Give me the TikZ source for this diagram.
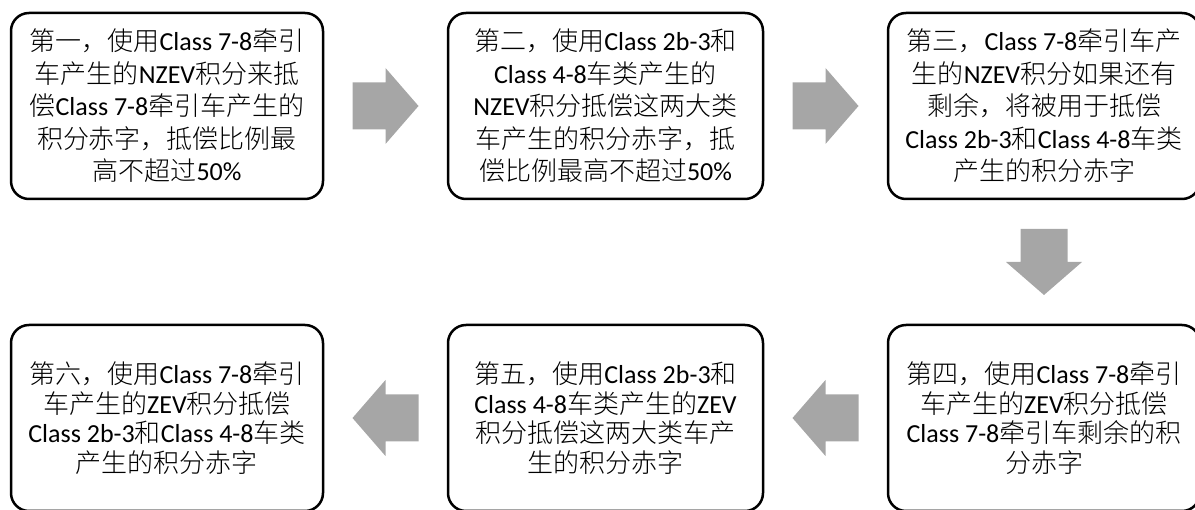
\documentclass[tikz,border=0pt]{standalone}
\usepackage{fontspec}
\setmainfont{Noto Sans CJK SC}[UprightFont={* Light}]
\newfontfamily\latfont{Carlito}
\newcommand{\en}[1]{{\latfont #1}}
\usetikzlibrary{calc}
\definecolor{arrowgray}{RGB}{166,166,166}
\tikzset{
  stepbox/.style={draw=black, line width=2.5pt, rounded corners=18pt,
    minimum width=312pt, minimum height=186pt, align=center, inner sep=0pt,
    font=\fontsize{26}{32.5}\selectfont},
  lowbox/.style={stepbox, font=\fontsize{26}{29.5}\selectfont},
  blockarr/.pic={
    \fill[arrowgray] (-33,-23.5) -- (0,-23.5) -- (0,-38) -- (33,0) -- (0,38)
      -- (0,23.5) -- (-33,23.5) -- cycle;
  }
}
\begin{document}
\begin{tikzpicture}[x=1pt,y=-1pt]
\useasboundingbox (0,0) rectangle (1195,510);
\node[stepbox] (b1) at (167,106) {第一，使用\en{Class 7-8}牵引\\车产生的\en{NZEV}积分来抵\\偿\en{Class 7-8}牵引车产生的\\积分赤字，抵偿比例最\\高不超过\en{50\%}};
\node[stepbox, minimum width=315pt] (b2) at (605.5,106) {第二，使用\en{Class 2b-3}和\\\en{Class 4-8}车类产生的\\\en{NZEV}积分抵偿这两大类\\车产生的积分赤字，抵\\偿比例最高不超过\en{50\%}};
\node[stepbox] (b3) at (1044,106) {第三，\en{Class 7-8}牵引车产\\生的\en{NZEV}积分如果还有\\剩余，将被用于抵偿\\\en{Class 2b-3}和\en{Class 4-8}车类\\产生的积分赤字};
\node[lowbox] (b4) at (1044,418) {第四，使用\en{Class 7-8}牵引\\车产生的\en{ZEV}积分抵偿\\\en{Class 7-8}牵引车剩余的积\\分赤字};
\node[lowbox, minimum width=315pt] (b5) at (605.5,418) {第五，使用\en{Class 2b-3}和\\\en{Class 4-8}车类产生的\en{ZEV}\\积分抵偿这两大类车产\\生的积分赤字};
\node[lowbox] (b6) at (167,418) {第六，使用\en{Class 7-8}牵引\\车产生的\en{ZEV}积分抵偿\\\en{Class 2b-3}和\en{Class 4-8}车类\\产生的积分赤字};
\path ($(b1.east)!0.5!(b2.west)$) pic {blockarr};
\path ($(b2.east)!0.5!(b3.west)$) pic {blockarr};
\path ($(b3.south)!0.5!(b4.north)$) pic[rotate=-90] {blockarr};
\path ($(b5.east)!0.5!(b4.west)$) pic[rotate=180] {blockarr};
\path ($(b6.east)!0.5!(b5.west)$) pic[rotate=180] {blockarr};
\end{tikzpicture}
\end{document}
